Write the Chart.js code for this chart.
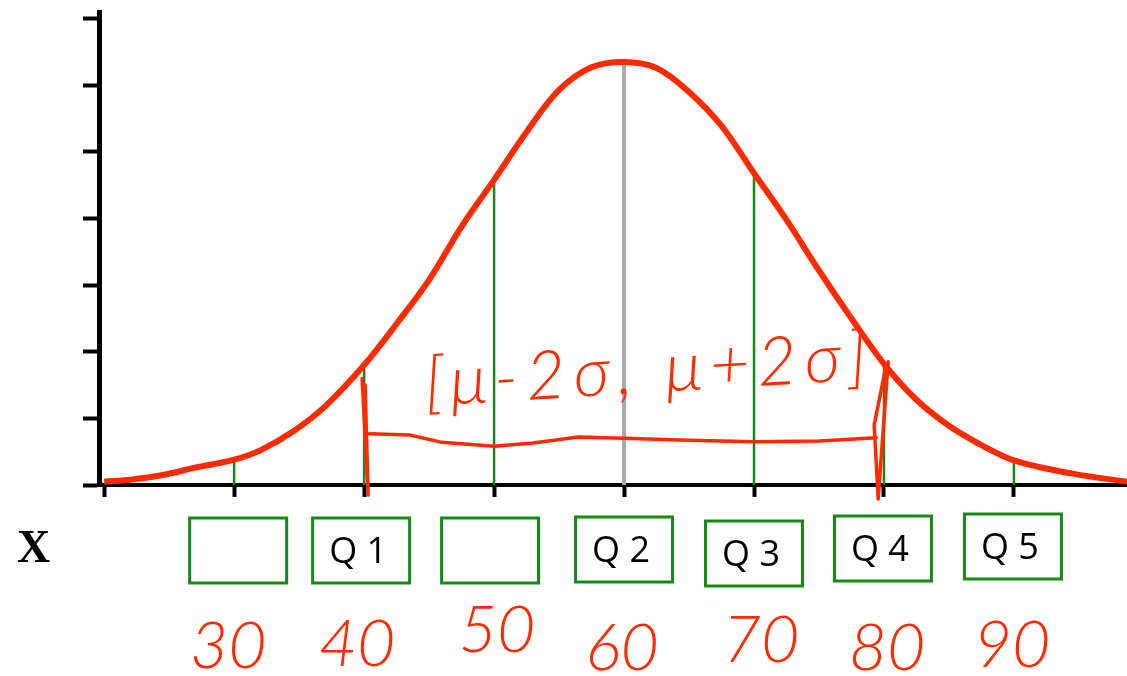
<!DOCTYPE html>
<html>
<head>
<meta charset="utf-8">
<script src="https://cdn.jsdelivr.net/npm/chart.js@4.4.1/dist/chart.umd.min.js"></script>
<style>
  html, body { margin: 0; padding: 0; background: #fff; }
  #wrap { width: 1127px; height: 676px; position: relative; }
</style>
</head>
<body>
<div id="wrap"><canvas id="c" width="1127" height="676"></canvas></div>
<script>
// ---- data ----
const curveX = [20, 22, 24.5, 27, 30, 32, 34.5, 37, 40, 42.5, 45, 47.5, 50, 52.5, 55, 57.5, 60, 62.5, 65, 67.5, 70, 72.5, 75, 77.5, 80, 82.5, 85, 87.5, 90, 94.5, 98.7];
const curveY = [0.05, 0.08, 0.15, 0.26, 0.38, 0.52, 0.80, 1.18, 1.80, 2.42, 3.08, 3.88, 4.58, 5.30, 5.93, 6.27, 6.35, 6.26, 5.90, 5.39, 4.68, 3.98, 3.22, 2.50, 1.82, 1.28, 0.89, 0.60, 0.37, 0.17, 0.05];
const guideX = [30, 40, 50, 70, 80, 90];
const guideY = [0.38, 1.80, 4.58, 4.69, 1.82, 0.37];
const meanX = 60;
const meanY = 6.35;
const xTickValues = [20, 30, 40, 50, 60, 70, 80, 90];
const yTickValues = [0, 1, 2, 3, 4, 5, 6, 7];
const boxX = [30, 40, 50, 60, 70, 80, 90];
const boxLabels = ['', 'Q 1', '', 'Q 2', 'Q 3', 'Q 4', 'Q 5'];
const handLabels = ['30', '40', '50', '60', '70', '80', '90'];
const axisLabel = 'X';
const intervalText = '[\u03bc-2\u03c3, \u03bc+2\u03c3]';
// hand-drawn bracket (data units)
const bracketLineX = [40.4, 43.5, 46, 50, 53, 56.5, 60, 65, 70, 75, 79.4];
const bracketLineY = [0.77, 0.75, 0.64, 0.58, 0.63, 0.72, 0.70, 0.67, 0.65, 0.66, 0.71];
const bracketLeftX = 40.0, bracketRightX = 79.4;

// ---- styling constants ----
const RED = '#ff2a00';
const GREEN = '#168a16';
const HAND_FONT = '"Lato", "DejaVu Sans", sans-serif';

const datasets = [];
datasets.push({
  label: 'curve',
  data: curveX.map((x, i) => ({ x, y: curveY[i] })),
  borderColor: RED, borderWidth: 6, pointRadius: 0,
  tension: 0.35, order: 0
});
guideX.forEach((x, i) => {
  datasets.push({
    label: 'g' + i,
    data: [{ x, y: 0 }, { x, y: guideY[i] }],
    borderColor: GREEN, borderWidth: 2.5, pointRadius: 0, order: 2
  });
});
datasets.push({
  label: 'mean',
  data: [{ x: meanX, y: 0 }, { x: meanX, y: meanY }],
  borderColor: '#a9a9ad', borderWidth: 4, pointRadius: 0, order: 1
});

const overlay = {
  id: 'overlay',
  afterDraw(chart) {
    const ctx = chart.ctx;
    const xs = chart.scales.x, ys = chart.scales.y;
    const base = ys.getPixelForValue(0);
    ctx.save();
    // axis label X
    ctx.fillStyle = '#000';
    ctx.font = 'bold 46px "Liberation Serif", "DejaVu Serif", serif';
    ctx.textAlign = 'left';
    ctx.textBaseline = 'alphabetic';
    ctx.fillText(axisLabel, 17, 562);

    // boxes with labels
    const boxDy = [33, 33, 33, 32, 36, 31, 29];
    const boxDx = [4, -3, -4, 0, 0, -1, -1];
    boxX.forEach((v, i) => {
      const cx = xs.getPixelForValue(v) + boxDx[i];
      const top = base + boxDy[i];
      ctx.strokeStyle = GREEN;
      ctx.lineWidth = 3;
      ctx.strokeRect(cx - 48.5, top, 97, 65);
      if (boxLabels[i]) {
        ctx.fillStyle = '#000';
        ctx.font = '36px "Open Sans", "Noto Sans", "DejaVu Sans", sans-serif';
        ctx.textAlign = 'center';
        ctx.fillText(boxLabels[i], cx - 3, top + 45);
      }
    });

    // handwritten numbers
    const handDx = [-6, -7, 3, -2, 7, 3, -2];
    const handY = [668, 666, 652, 670, 662, 670, 667];
    ctx.fillStyle = RED;
    ctx.font = 'italic 300 66px ' + HAND_FONT;
    ctx.textAlign = 'center';
    boxX.forEach((v, i) => {
      ctx.fillText(handLabels[i], xs.getPixelForValue(v) + handDx[i], handY[i]);
    });

    // interval annotation text
    ctx.save();
    ctx.translate(426, 406);
    ctx.rotate(-0.06);
    ctx.font = 'italic 300 68px ' + HAND_FONT;
    ctx.textAlign = 'left';
    try { ctx.letterSpacing = '8px'; } catch (e) {}
    ctx.fillText(intervalText, 0, 0);
    ctx.restore();

    // bracket line
    ctx.strokeStyle = RED;
    ctx.lineWidth = 3.5;
    ctx.lineJoin = 'round';
    ctx.lineCap = 'round';
    ctx.beginPath();
    bracketLineX.forEach((x, i) => {
      const px = xs.getPixelForValue(x), py = ys.getPixelForValue(bracketLineY[i]);
      if (i === 0) ctx.moveTo(px, py); else ctx.lineTo(px, py);
    });
    ctx.stroke();
    // left vertical loop
    const lx = xs.getPixelForValue(bracketLeftX);
    ctx.beginPath();
    ctx.moveTo(lx - 2, ys.getPixelForValue(1.6));
    ctx.lineTo(lx + 4, base + 10);
    ctx.lineTo(lx + 1, ys.getPixelForValue(1.5));
    ctx.stroke();
    const rx = xs.getPixelForValue(bracketRightX);
    ctx.beginPath();
    ctx.moveTo(rx + 12, ys.getPixelForValue(1.85));
    ctx.lineTo(rx + 2, base + 14);
    ctx.lineTo(rx - 2, ys.getPixelForValue(0.9));
    ctx.lineTo(rx + 10, ys.getPixelForValue(1.8));
    ctx.stroke();
    ctx.restore();
  }
};

new Chart(document.getElementById('c'), {
  type: 'line',
  data: { datasets },
  options: {
    responsive: false,
    animation: false,
    devicePixelRatio: 1,
    layout: { padding: { left: 83, right: 0, top: 12, bottom: 179 } },
    plugins: { legend: { display: false }, tooltip: { enabled: false } },
    scales: {
      x: {
        type: 'linear', min: 19.6, max: 98.7,
        afterBuildTicks: s => { s.ticks = xTickValues.map(v => ({ value: v })); },
        ticks: { display: false },
        grid: { drawOnChartArea: false, drawTicks: true, tickLength: 12, tickWidth: 4, tickColor: '#000' },
        border: { display: true, color: '#000', width: 4 }
      },
      y: {
        type: 'linear', min: 0, max: 7.1,
        afterBuildTicks: s => { s.ticks = yTickValues.map(v => ({ value: v })); },
        ticks: { display: false },
        grid: { drawOnChartArea: false, drawTicks: true, tickLength: 16, tickWidth: 4, tickColor: '#000' },
        border: { display: true, color: '#000', width: 5 }
      }
    }
  },
  plugins: [overlay]
});
</script>
</body>
</html>
